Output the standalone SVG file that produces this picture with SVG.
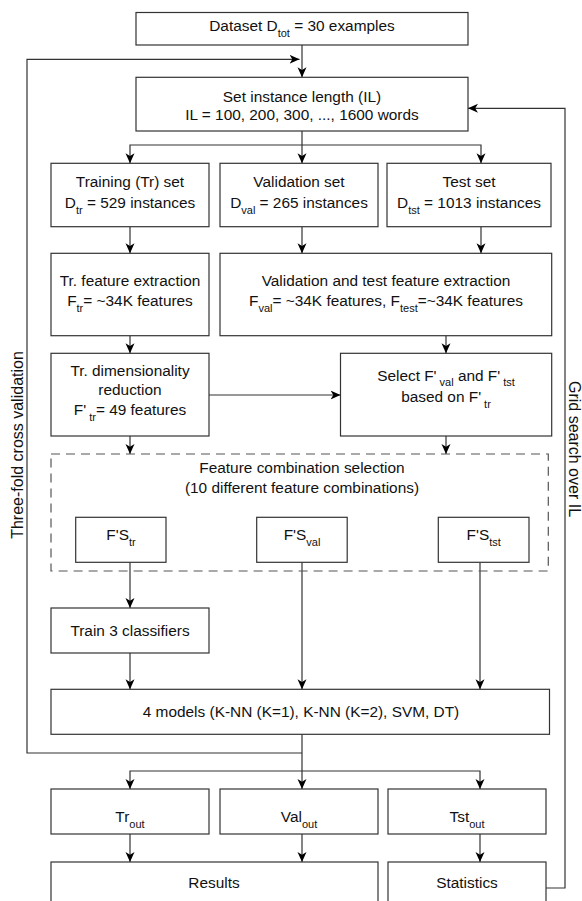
<svg xmlns="http://www.w3.org/2000/svg" width="582" height="901" viewBox="0 0 582 901">
<defs>
<marker id="ah" viewBox="0 0 10 10" refX="10" refY="5" markerWidth="10" markerHeight="10" markerUnits="userSpaceOnUse" orient="auto">
<path d="M0,0.5 L10,5 L0,9.5 L2.8,5 z" fill="#000"/>
</marker>
<style>
.box{fill:#fff;stroke:#333;stroke-width:1.2}
.dash{fill:none;stroke:#555;stroke-width:1.2;stroke-dasharray:9 6}
.ln{fill:none;stroke:#333;stroke-width:1.2}
.ar{marker-end:url(#ah)}
text{font-family:"Liberation Sans",Arial,sans-serif;font-size:15.4px;fill:#111;text-anchor:middle}
.sub{font-size:11px}
.side{font-size:16px}
</style>
</defs>
<rect width="582" height="901" fill="#fff"/>

<g id="connectors">
<path class="ln ar" d="M302,45 V77.3"/>
<path class="ln ar" d="M302,753 H27 V59.3 H299.5"/>
<path class="ln ar" d="M302,131 V163.3"/>
<path class="ln ar" d="M302,145 H130 V163.3"/>
<path class="ln ar" d="M302,145 H481 V163.3"/>
<path class="ln ar" d="M130,226.7 V253.3"/>
<path class="ln ar" d="M302,226.7 V253.3"/>
<path class="ln ar" d="M481,226.7 V253.3"/>
<path class="ln ar" d="M130,335.7 V353.3"/>
<path class="ln ar" d="M446,335.7 V353.3"/>
<path class="ln ar" d="M209,395 H340.5"/>
<path class="ln ar" d="M130,436 V454"/>
<path class="ln ar" d="M446,436 V454"/>
<path class="ln ar" d="M130,562.3 V608"/>
<path class="ln ar" d="M130,653 V689.3"/>
<path class="ln ar" d="M302,562.3 V689.3"/>
<path class="ln ar" d="M480,562.3 V689.3"/>
<path class="ln ar" d="M302,734.3 V789"/>
<path class="ln ar" d="M302,771 H130 V789"/>
<path class="ln ar" d="M302,771 H480 V789"/>
<path class="ln ar" d="M130,834 V862"/>
<path class="ln ar" d="M302,834 V862"/>
<path class="ln ar" d="M480,834 V862"/>
<path class="ln ar" d="M546,888 H565 V108.3 H468"/>
</g>

<g id="n_dataset">
<rect class="box" x="136" y="12.5" width="332" height="32.5"/>
<text x="302" y="31">Dataset D<tspan class="sub" dy="6">tot</tspan><tspan dy="-6"> = 30 examples</tspan></text>
</g>
<g id="n_setil">
<rect class="box" x="136" y="77.3" width="332" height="53.7"/>
<text x="302" y="101.5">Set instance length (IL)</text>
<text x="302" y="120">IL = 100, 200, 300, ..., 1600 words</text>
</g>
<g id="n_train">
<rect class="box" x="51" y="163.3" width="158" height="63.4"/>
<text x="130" y="187">Training (Tr) set</text>
<text x="130" y="207.5">D<tspan class="sub" dy="6">tr</tspan><tspan dy="-6"> = 529 instances</tspan></text>
</g>
<g id="n_val">
<rect class="box" x="220" y="163.3" width="158" height="63.4"/>
<text x="299" y="187">Validation set</text>
<text x="299" y="207.5">D<tspan class="sub" dy="6">val</tspan><tspan dy="-6"> = 265 instances</tspan></text>
</g>
<g id="n_test">
<rect class="box" x="387" y="163.3" width="164" height="63.4"/>
<text x="469" y="187">Test set</text>
<text x="469" y="207.5">D<tspan class="sub" dy="6">tst</tspan><tspan dy="-6"> = 1013 instances</tspan></text>
</g>
<g id="n_trfe">
<rect class="box" x="51" y="253.3" width="158" height="82.4"/>
<text x="130" y="286">Tr. feature extraction</text>
<text x="130" y="306">F<tspan class="sub" dy="6">tr</tspan><tspan dy="-6">= ~34K features</tspan></text>
</g>
<g id="n_vtfe">
<rect class="box" x="220" y="253.3" width="331.7" height="82.4"/>
<text x="386" y="286">Validation and test feature extraction</text>
<text x="386" y="306">F<tspan class="sub" dy="6">val</tspan><tspan dy="-6">= ~34K features, F</tspan><tspan class="sub" dy="6">test</tspan><tspan dy="-6">=~34K features</tspan></text>
</g>
<g id="n_trdr">
<rect class="box" x="51" y="353.3" width="158" height="82.7"/>
<text x="130" y="375.7">Tr. dimensionality</text>
<text x="130" y="395">reduction</text>
<text x="130" y="415">F'<tspan class="sub" dx="3" dy="6">tr</tspan><tspan dy="-6">= 49 features</tspan></text>
</g>
<g id="n_sel">
<rect class="box" x="340.5" y="353.3" width="211.2" height="82.7"/>
<text x="446" y="381">Select F'<tspan class="sub" dx="3" dy="5">val</tspan><tspan dy="-5"> and F'</tspan><tspan class="sub" dx="3" dy="5">tst</tspan></text>
<text x="446" y="402">based on F'<tspan class="sub" dx="3" dy="6">tr</tspan></text>
</g>
<g id="n_fcs">
<rect class="dash" x="51" y="454" width="497.3" height="117"/>
<text x="302" y="473.3">Feature combination selection</text>
<text x="302" y="493.3">(10 different feature combinations)</text>
</g>
<g id="n_fstr">
<rect class="box" x="75.7" y="517.3" width="90.3" height="45"/>
<text x="121" y="540">F'S<tspan class="sub" dy="6">tr</tspan></text>
</g>
<g id="n_fsval">
<rect class="box" x="256.7" y="517.3" width="90.5" height="45"/>
<text x="302" y="540">F'S<tspan class="sub" dy="6">val</tspan></text>
</g>
<g id="n_fstst">
<rect class="box" x="438.3" y="517.3" width="90.7" height="45"/>
<text x="483.7" y="540">F'S<tspan class="sub" dy="6">tst</tspan></text>
</g>
<g id="n_train3">
<rect class="box" x="51" y="608" width="158" height="45"/>
<text x="130" y="636">Train 3 classifiers</text>
</g>
<g id="n_models">
<rect class="box" x="51" y="689.3" width="498.5" height="45"/>
<text x="301" y="717">4 models (K-NN (K=1), K-NN (K=2), SVM, DT)</text>
</g>
<g id="n_trout">
<rect class="box" x="51" y="789" width="158" height="45"/>
<text x="130" y="822">Tr<tspan class="sub" dy="6">out</tspan></text>
</g>
<g id="n_valout">
<rect class="box" x="220" y="789" width="158" height="45"/>
<text x="299" y="822">Val<tspan class="sub" dy="6">out</tspan></text>
</g>
<g id="n_tstout">
<rect class="box" x="388" y="789" width="158" height="45"/>
<text x="467" y="822">Tst<tspan class="sub" dy="6">out</tspan></text>
</g>
<g id="n_results">
<rect class="box" x="51" y="862" width="327" height="60"/>
<text x="214" y="888">Results</text>
</g>
<g id="n_stats">
<rect class="box" x="388" y="862" width="158" height="60"/>
<text x="467" y="888">Statistics</text>
</g>
<g id="labels">
<text class="side" transform="translate(22.5,445) rotate(-90)">Three-fold cross validation</text>
<text class="side" transform="translate(569,449) rotate(90)">Grid search over IL</text>
</g>
</svg>
